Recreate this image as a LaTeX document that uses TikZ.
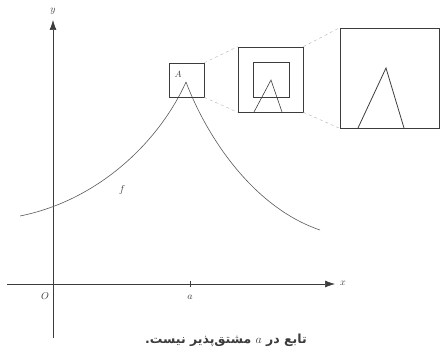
\documentclass[tikz,border=0pt]{standalone}
\usepackage{fontspec}
\usepackage{tikz}
\usetikzlibrary{arrows.meta,positioning}
\newfontfamily\arabicfont[Script=Arabic]{DejaVu Sans}
\TeXXeTstate=1
\definecolor{ink}{RGB}{60,60,60}

\begin{document}
\begin{tikzpicture}[
  x=1pt,y=-1pt,
  axis/.style={-{Latex[length=10pt,width=7pt]},ink,semithick},
  lbl/.style={inner sep=1pt,font=\normalsize,ink},
  zbox/.style={rectangle,draw=ink,semithick,inner sep=0pt},
  guide/.style={dashed,black!30,thin},
  curve/.style={ink!85,semithick}
]
\useasboundingbox (0,0) rectangle (440,361);
% axes
\coordinate (xs) at (7,284);
\coordinate (xe) at (335,284);
\coordinate (ys) at (53,338);
\coordinate (ye) at (53,20);
\draw[axis] (xs)--(xe);
\draw[axis] (ys)--(ye);
\node[lbl] (xl) at (343,283) {$x$};
\node[lbl] (yl) at (53,11) {$y$};
\node[lbl] (orig) at (45,296) {$O$};
\coordinate (ta) at (190,284);
\draw[ink] ([yshift=-3]ta)--([yshift=3]ta);
\node[lbl] (al) at (190,297) {$a$};
% the function
\coordinate (left) at (20,216);
\coordinate (peak) at (186,82);
\coordinate (right) at (320,230);
\draw[curve] (left) .. controls (100,200) and (160,140) .. (peak);
\draw[curve] (peak) .. controls (208,140) and (255,208) .. (right);
\node[lbl] (fl) at (122,190) {$f$};
% zoom boxes
\node[zbox,minimum width=35,minimum height=34] (small) at (186.5,80) {};
\node[lbl,font=\small] (A) at (178,74) {$A$};
\node[zbox,minimum width=65,minimum height=65] (mid) at (270.5,79.5) {};
\node[zbox,minimum width=36,minimum height=35] (inner) at (271,79.5) {};
\coordinate (mtop) at (271,80);
\draw[ink,semithick] (254,112)--(mtop)--(282,112);
\node[zbox,minimum width=99,minimum height=100] (big) at (389.5,78) {};
\coordinate (btop) at (386,68);
\draw[ink,thick] (358,128)--(btop)--(404,128);
\draw[guide] (small.north east)--(mid.north west);
\draw[guide] (small.south east)--(mid.south west);
\draw[guide] (mid.north east)--(big.north west);
\draw[guide] (mid.south east)--(big.south west);
% caption
\node[font=\arabicfont\bfseries\fontsize{12.5}{15}\selectfont,ink] (cap) at (226,340)
  {\beginR تابع در \beginL$a$\endL{} مشتق‌پذیر نیست.\endR};
\end{tikzpicture}
\end{document}
